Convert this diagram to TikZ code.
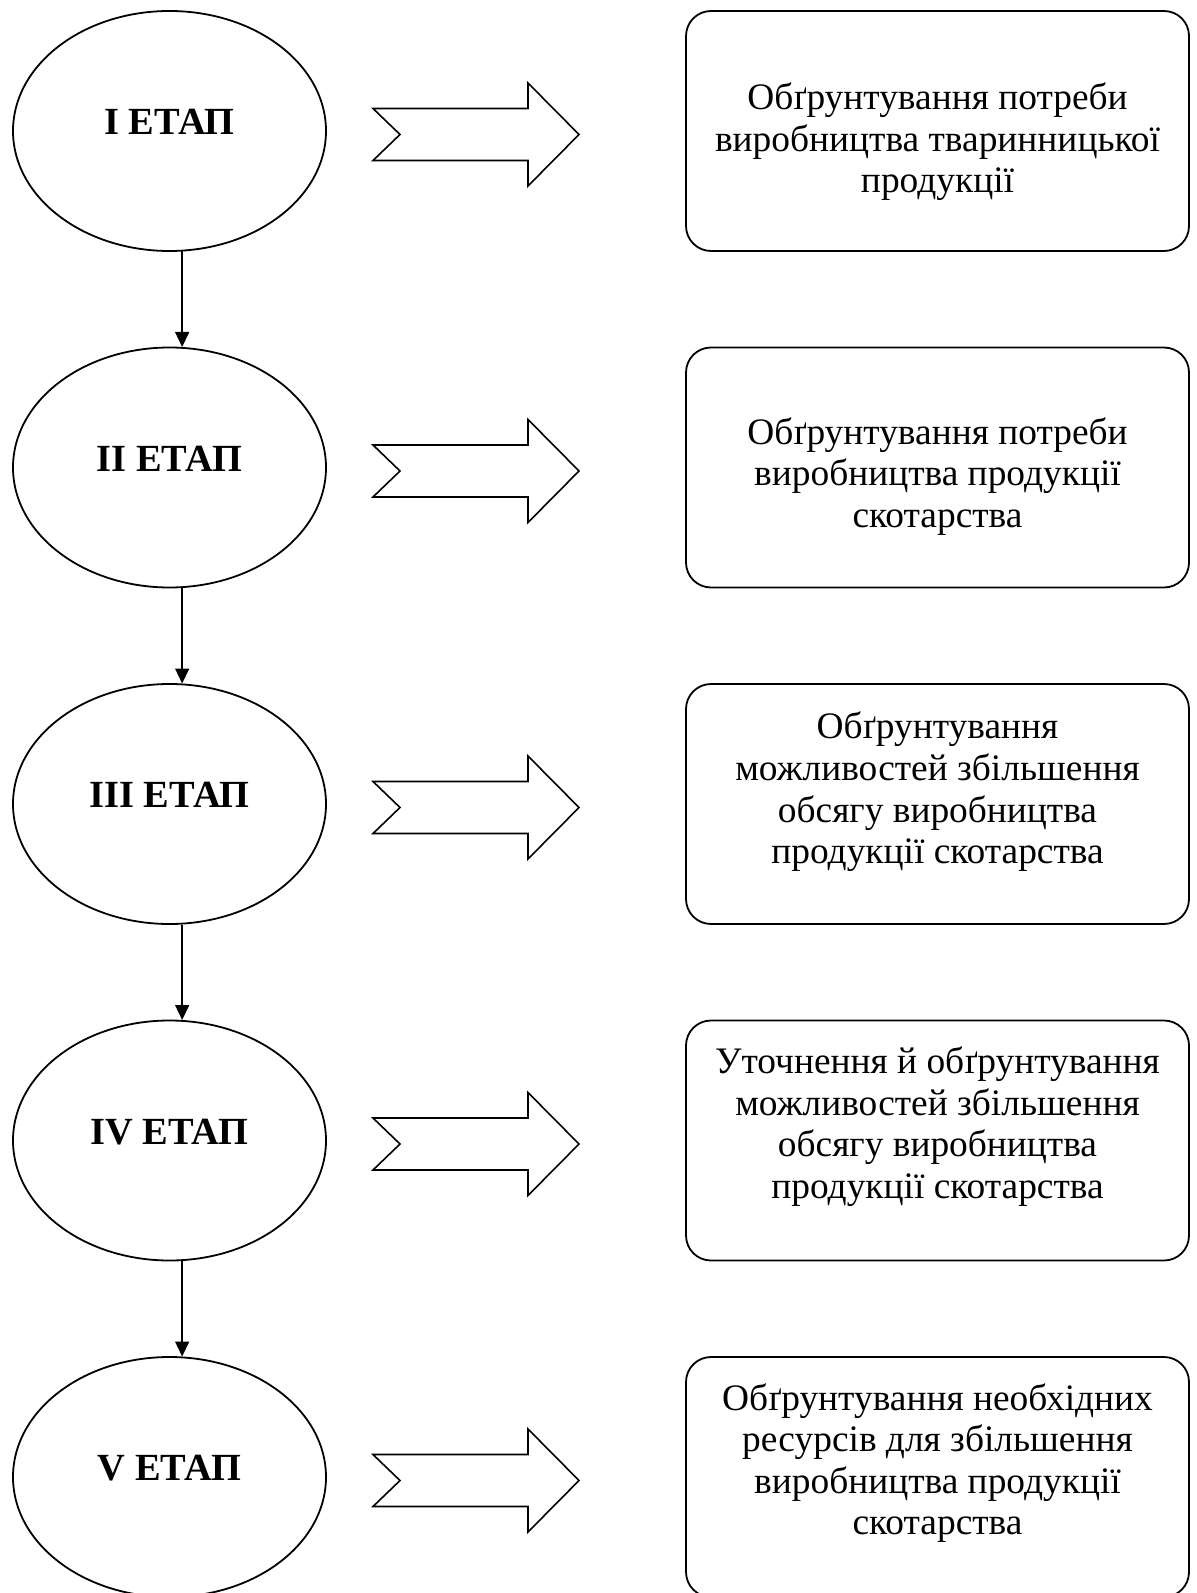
\documentclass[tikz,border=0pt]{standalone}
\usepackage{fontspec}
\setmainfont{Liberation Serif}
\usepackage{tikz}
\usetikzlibrary{arrows.meta, positioning, shapes.geometric}

\begin{document}
\begin{tikzpicture}[
  x=0.5pt, y=-0.5pt,
  stage/.style = {ellipse, draw, line width=0.9pt, minimum width=156.5pt, minimum height=120pt, inner sep=0pt, text depth=9pt, font=\fontsize{19.2}{22}\selectfont\bfseries},
  taskbox/.style = {draw, rounded corners=12.5pt, line width=0.9pt, minimum width=251.5pt, minimum height=120pt},
  tasktext/.style = {align=center, inner sep=0pt, font=\fontsize{18.7}{20.8}\selectfont},
  flow/.style = {-{Triangle[width=7pt, length=7.5pt]}, line width=0.75pt},
  bigarrow/.pic = {
    \draw[line width=0.8pt] (-103,-26) -- (-76,0) -- (-103,26) -- (52,26) -- (52,51.5)
      -- (103,0) -- (52,-51.5) -- (52,-26) -- cycle;
  }
]

% Page frame (pixels of the reference)
\useasboundingbox (0,0) rectangle (1196,1593);

% Stages
\node[stage] (e1) at (169.5,131) {I ЕТАП};
\node[stage] (e2) at (169.5,467.5) {II ЕТАП};
\node[stage] (e3) at (169.5,804) {III ЕТАП};
\node[stage] (e4) at (169.5,1140.5) {IV ЕТАП};
\node[stage] (e5) at (169.5,1477) {V ЕТАП};

% Task boxes
\node[taskbox] (b1) at (937.5,131) {};
\node[taskbox] (b2) at (937.5,467.5) {};
\node[taskbox] (b3) at (937.5,804) {};
\node[taskbox] (b4) at (937.5,1140.5) {};
\node[taskbox] (b5) at (937.5,1477) {};

% Task texts
\node[tasktext] (t1) at ([yshift=-5.5pt]b1.center) {Обґрунтування потреби\\виробництва тваринницької\\продукції};
\node[tasktext] (t2) at ([yshift=-4.5pt]b2.center) {Обґрунтування потреби\\виробництва продукції\\скотарства};
\node[tasktext] (t3) at ([yshift=6pt]b3.center) {Обґрунтування\\можливостей збільшення\\обсягу виробництва\\продукції скотарства};
\node[tasktext] (t4) at ([yshift=7pt]b4.center) {Уточнення й обґрунтування\\можливостей збільшення\\обсягу виробництва\\продукції скотарства};
\node[tasktext] (t5) at ([yshift=7pt]b5.center) {Обґрунтування необхідних\\ресурсів для збільшення\\виробництва продукції\\скотарства};

% Sequence of stages
\draw[flow] (e1.-84.5) -- (e2.84.5);
\draw[flow] (e2.-84.5) -- (e3.84.5);
\draw[flow] (e3.-84.5) -- (e4.84.5);
\draw[flow] (e4.-84.5) -- (e5.84.5);

% Hollow arrows stage -> task
\pic at (476,134.5) {bigarrow};
\pic at (476,471) {bigarrow};
\pic at (476,807.5) {bigarrow};
\pic at (476,1144) {bigarrow};
\pic at (476,1480.5) {bigarrow};

\end{tikzpicture}
\end{document}
